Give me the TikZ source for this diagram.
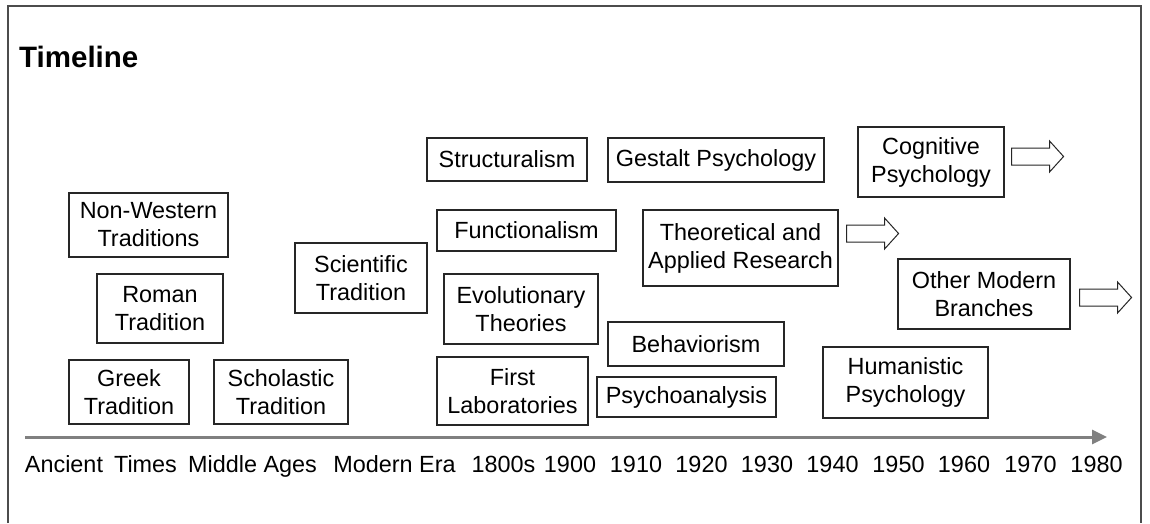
\documentclass[tikz,border=0pt]{standalone}
\usepackage{fontspec}
\setmainfont{Liberation Sans}
\usetikzlibrary{arrows.meta,calc}
\begin{document}
\begin{tikzpicture}[x=1pt,y=-1pt,
  box/.style={draw=black!85, line width=1.1pt, align=center, inner sep=0pt,
    font=\fontsize{23.4}{28}\selectfont, text=black},
  lbl/.style={anchor=base, font=\fontsize{23.4}{28}\selectfont, inner sep=0pt, text=black},
  blockarrow/.pic={\draw[line width=1pt, draw=black!85, fill=white]
    (0,-8.5) -- (38,-8.5) -- (38,-15.5) -- (52,0) -- (38,15.5) -- (38,8.5) -- (0,8.5) -- cycle;}
]
\useasboundingbox (0,0) rectangle (1150,523);
% frame
\draw[line width=2pt, draw=black!70] (7.5,523) -- (7.5,6) -- (1141,6) -- (1141,523);
% title
\node[anchor=base west, inner sep=0pt, font=\fontsize{29.5}{34}\selectfont\bfseries] (title) at (19,67) {Timeline};
% boxes
\node[box, minimum width=159pt, minimum height=64pt] (nonwest) at (148.5,225) {Non-Western\\Traditions};
\node[box, minimum width=126pt, minimum height=69pt] (roman) at (160,308.5) {Roman\\Tradition};
\node[box, minimum width=120pt, minimum height=64pt] (greek) at (129,392) {Greek\\Tradition};
\node[box, minimum width=134pt, minimum height=64pt] (schol) at (281,392) {Scholastic\\Tradition};
\node[box, minimum width=132pt, minimum height=70pt] (sci) at (361,278) {Scientific\\Tradition};
\node[box, minimum width=160pt, minimum height=43pt] (struct) at (507,159.5) {Structuralism};
\node[box, minimum width=216pt, minimum height=44pt] (gestalt) at (716,160) {Gestalt Psychology};
\node[box, minimum width=146pt, minimum height=70pt] (cog) at (931,162) {Cognitive\\Psychology};
\node[box, minimum width=179pt, minimum height=41pt] (func) at (526.5,230.5) {Functionalism};
\node[box, minimum width=195pt, minimum height=76pt] (theo) at (740.5,248) {Theoretical and\\Applied Research};
\node[box, minimum width=172pt, minimum height=70pt] (other) at (984,294) {Other Modern\\Branches};
\node[box, minimum width=154pt, minimum height=70pt] (evol) at (521,309) {Evolutionary\\Theories};
\node[box, minimum width=176pt, minimum height=44pt] (behav) at (696,344) {Behaviorism};
\node[box, minimum width=151pt, minimum height=68pt] (firstlab) at (512.5,391) {First\\Laboratories};
\node[box, minimum width=179pt, minimum height=40pt] (psycho) at (686.5,397) {Psychoanalysis};
\node[box, minimum width=165pt, minimum height=71pt] (human) at (905.5,382.5) {Humanistic\\Psychology};
% block arrows
\pic at ($(cog.east)+(7,-5.5)$) {blockarrow};
\pic at ($(theo.east)+(8,-14.5)$) {blockarrow};
\pic at ($(other.east)+(9,3.5)$) {blockarrow};
% axis
\coordinate (axs) at (25,437);
\coordinate (axe) at (1107,437);
\draw[line width=3pt, draw=black!50, -{Triangle[length=15pt,width=14pt]}] (axs) -- (axe);
% axis labels
\node[lbl] (l1) at (64,472) {Ancient};
\node[lbl] (l2) at (145.5,472) {Times};
\node[lbl] (l3) at (252.5,472) {Middle Ages};
\node[lbl] (l4) at (394.5,472) {Modern Era};
\node[lbl] (l5) at (503.5,472) {1800s};
\node[lbl] (l6) at (570,472) {1900};
\node[lbl] (l7) at (636,472) {1910};
\node[lbl] (l8) at (701.5,472) {1920};
\node[lbl] (l9) at (767,472) {1930};
\node[lbl] (l10) at (832.5,472) {1940};
\node[lbl] (l11) at (898.5,472) {1950};
\node[lbl] (l12) at (964,472) {1960};
\node[lbl] (l13) at (1030.5,472) {1970};
\node[lbl] (l14) at (1096.5,472) {1980};
\end{tikzpicture}
\end{document}
